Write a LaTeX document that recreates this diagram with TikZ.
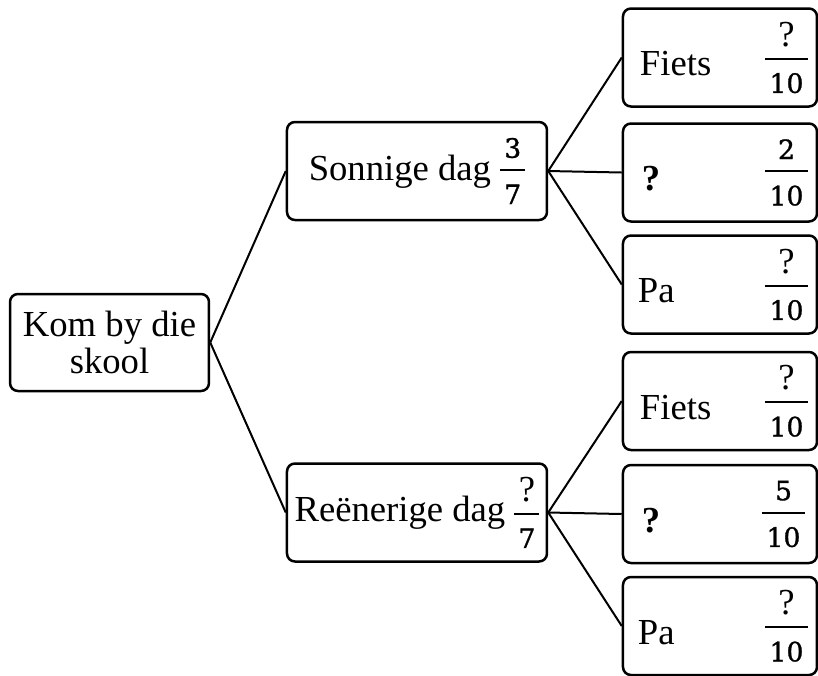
\documentclass[tikz,border=0pt]{standalone}
\usepackage{amsmath}
\usepackage{fontspec}
\setmainfont{Liberation Serif}
\newfontfamily\digitfont[FakeBold=1.2]{DejaVu Serif}
\usepackage{tikz}

\newcommand\dg[1]{{\digitfont\fontsize{8}{9}\selectfont #1}}
\newcommand\frc[3]{\ensuremath{\vcenter{\hbox to #1{\hfil #2\hfil}\kern3.3pt\hrule height 0.65pt\kern4pt\hbox to #1{\hfil #3\hfil}}}}
\newcommand\lbl[1]{\raisebox{-2.7pt}{#1}}

\begin{document}
\begin{tikzpicture}[x=0.3pt, y=-0.3pt,
        box/.style={draw, line width=0.75pt, rounded corners=2.4pt, inner sep=0pt,
            minimum height=29.4pt, font=\fontsize{11}{11.1}\selectfont},
        mid/.style={box, minimum width=78pt},
        leaf/.style={box, minimum width=58.2pt}]
        \useasboundingbox (0,0) rectangle (818,675);
        \clip (0,0) rectangle (818,675);

        \node[box, minimum width=59.7pt, minimum height=29.1pt, align=center] (1) at (109.5,342.5) {Kom by die\\skool};
        \node[mid] (2) at (417,171) {Sonnige dag \frc{7.5pt}{\dg{3}}{\dg{7}}};
        \node[mid] (3) at (417,512.5) {Reënerige dag \frc{7.5pt}{?}{\dg{7}}};

        \node[leaf] (4) at (720,57.5) {\makebox[58.2pt]{\hspace{5.1pt}\lbl{Fiets}\hfill\frc{12.9pt}{?}{\dg{10}}\hspace{2.7pt}}};
        \node[leaf] (5) at (720,172.5) {\makebox[58.2pt]{\hspace{5.7pt}\lbl{\textbf{?}}\hfill\frc{12.9pt}{\dg{2}}{\dg{10}}\hspace{2.7pt}}};
        \node[leaf] (6) at (720,284.5) {\makebox[58.2pt]{\hspace{4.5pt}\lbl{Pa}\hfill\frc{12.9pt}{?}{\dg{10}}\hspace{2.7pt}}};
        \node[leaf] (7) at (720,401) {\makebox[58.2pt]{\hspace{5.1pt}\lbl{Fiets}\hfill\frc{12.9pt}{?}{\dg{10}}\hspace{2.7pt}}};
        \node[leaf] (8) at (720,514) {\makebox[58.2pt]{\hspace{5.7pt}\lbl{\textbf{?}}\hfill\frc{12.9pt}{\dg{5}}{\dg{10}}\hspace{3.6pt}}};
        \node[leaf] (9) at (720,626) {\makebox[58.2pt]{\hspace{4.5pt}\lbl{Pa}\hfill\frc{12.9pt}{?}{\dg{10}}\hspace{2.7pt}}};

        \draw[line width=0.6pt] (1.east) to (2.west);
        \draw[line width=0.6pt] (1.east) to (3.west);
        \draw[line width=0.6pt] (2.east) to (4.west);
        \draw[line width=0.6pt] (2.east) to (5.west);
        \draw[line width=0.6pt] (2.east) to (6.west);
        \draw[line width=0.6pt] (3.east) to (7.west);
        \draw[line width=0.6pt] (3.east) to (8.west);
        \draw[line width=0.6pt] (3.east) to (9.west);
    \end{tikzpicture}
\end{document}
